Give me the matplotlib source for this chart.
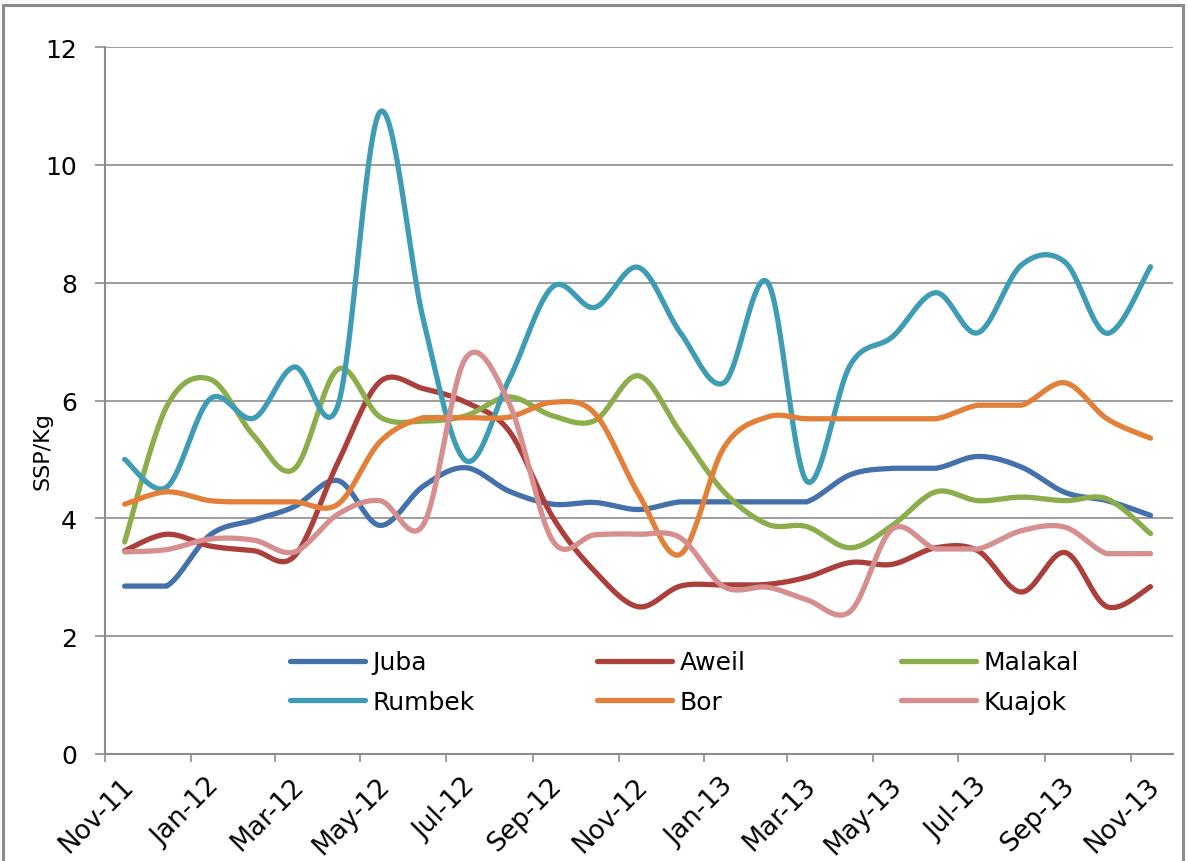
import numpy as np
import pandas as pd
import matplotlib
matplotlib.use('Agg')
import matplotlib.pyplot as plt
import matplotlib.dates as mdates
import matplotlib.transforms as mtransforms
import matplotlib.patches as patches

# monthly prices (SSP/Kg), Nov-11 .. Nov-13, plotted mid-month
months = pd.date_range('2011-11-01', '2013-11-01', freq='MS') + pd.Timedelta(days=14)

juba = [2.85, 2.85, 3.72, 3.97, 4.20, 4.64, 3.88, 4.55, 4.86, 4.46, 4.24, 4.27, 4.15,
        4.28, 4.28, 4.28, 4.28, 4.74, 4.85, 4.85, 5.05, 4.87, 4.44, 4.30, 4.05]
aweil = [3.45, 3.73, 3.53, 3.45, 3.36, 4.95, 6.32, 6.20, 5.97, 5.48, 4.02, 3.10, 2.50,
         2.85, 2.87, 2.88, 3.00, 3.25, 3.22, 3.50, 3.45, 2.75, 3.42, 2.50, 2.84]
malakal = [3.60, 5.90, 6.36, 5.40, 4.84, 6.53, 5.72, 5.65, 5.74, 6.06, 5.74, 5.66, 6.42,
           5.46, 4.45, 3.90, 3.86, 3.50, 3.88, 4.45, 4.30, 4.36, 4.30, 4.33, 3.74]
rumbek = [5.00, 4.53, 6.03, 5.70, 6.57, 5.92, 10.90, 7.35, 4.98, 6.36, 7.93, 7.58, 8.26,
          7.15, 6.30, 8.01, 4.63, 6.60, 7.08, 7.83, 7.15, 8.30, 8.35, 7.14, 8.27]
bor = [4.24, 4.45, 4.30, 4.28, 4.28, 4.24, 5.30, 5.71, 5.71, 5.72, 5.97, 5.78, 4.42,
       3.39, 5.20, 5.72, 5.69, 5.69, 5.69, 5.69, 5.92, 5.92, 6.30, 5.69, 5.36]
kuajok = [3.43, 3.47, 3.65, 3.63, 3.43, 4.07, 4.30, 3.90, 6.72, 5.95, 3.62, 3.72, 3.73,
          3.67, 2.84, 2.83, 2.62, 2.42, 3.82, 3.48, 3.48, 3.79, 3.85, 3.40, 3.40]

series = ['Juba', 'Aweil', 'Malakal', 'Rumbek', 'Bor', 'Kuajok']
values = [juba, aweil, malakal, rumbek, bor, kuajok]
colors = ['#4470AC', '#AA3F3C', '#8BAD4B', '#3F9CB5', '#E2803A', '#D68E8E']


def excel_smooth(x, y, n=24):
    # Catmull-Rom style bezier, like Excel's "smoothed line"
    x = np.asarray(x, float)
    y = np.asarray(y, float)
    xp = np.r_[x[0], x, x[-1]]
    yp = np.r_[y[0], y, y[-1]]
    t = np.linspace(0, 1, n)[:, None]
    out = []
    for i in range(len(x) - 1):
        p0 = np.array([xp[i], yp[i]])
        p1 = np.array([xp[i + 1], yp[i + 1]])
        p2 = np.array([xp[i + 2], yp[i + 2]])
        p3 = np.array([xp[i + 3], yp[i + 3]])
        if p1[1] == p2[1]:
            # flat stretch stays flat
            c1 = p1 + (p2 - p1) / 3
            c2 = p2 - (p2 - p1) / 3
        else:
            c1 = p1 + (p2 - p0) / 6
            c2 = p2 - (p3 - p1) / 6
        seg = ((1 - t) ** 3) * p1 + 3 * ((1 - t) ** 2) * t * c1 + 3 * (1 - t) * t ** 2 * c2 + t ** 3 * p2
        out.append(seg if i == 0 else seg[1:])
    out = np.vstack(out)
    return out[:, 0], out[:, 1]


fig = plt.figure(figsize=(11.88, 8.62), dpi=100)
ax = fig.add_axes([105 / 1188, 1 - 755 / 862, 1068 / 1188, 707 / 862])

xnum = mdates.date2num(months)
lines = []
for name, vals, col in zip(series, values, colors):
    sx, sy = excel_smooth(xnum, vals)
    ln, = ax.plot(sx, sy, color=col, lw=3.8, solid_capstyle='round', label=name)
    lines.append(ln)

ax.set_ylim(0, 12)
ax.set_yticks(np.arange(0, 13, 2))
ax.set_xlim(mdates.date2num(pd.Timestamp('2011-11-01')), mdates.date2num(pd.Timestamp('2013-12-01')))
ticks = pd.date_range('2011-11-01', '2013-11-01', freq='2MS')
ax.set_xticks(mdates.date2num(ticks))
ax.set_xticklabels([d.strftime('%b-%y') for d in ticks])

grid_col = '#8c8c8c'
ax.yaxis.grid(True, color=grid_col, lw=1.2)
ax.set_axisbelow(True)
for s in ['top', 'right']:
    ax.spines[s].set_visible(False)
for s in ['left', 'bottom']:
    ax.spines[s].set_color(grid_col)
    ax.spines[s].set_linewidth(1.5)
ax.tick_params(axis='y', length=7, width=1.2, color=grid_col, pad=13, labelsize=18)
ax.tick_params(axis='x', length=6, width=1.2, color=grid_col, pad=3, labelsize=19)

offset = mtransforms.ScaledTranslation(0.25, -0.15, fig.dpi_scale_trans)
for lab in ax.get_xticklabels():
    lab.set_rotation(45)
    lab.set_ha('right')
    lab.set_va('center')
    lab.set_rotation_mode('anchor')
    lab.set_transform(lab.get_transform() + offset)

ax.set_ylabel('SSP/Kg', fontsize=16)
ax.yaxis.set_label_coords(-0.049, 0.43)

# legend: three equal-width columns like Excel
col_x = [290, 597, 901]
for k, cx in enumerate(col_x):
    handles = [lines[k], lines[k + 3]]
    leg = fig.legend(handles=handles, loc='center left',
                     bbox_to_anchor=(cx / 1188, 1 - 683 / 862),
                     frameon=False, fontsize=18, handlelength=3.0, handletextpad=0.3,
                     borderpad=0, borderaxespad=0, labelspacing=0.62)

# chart area border
fig.patches.append(patches.Rectangle((3 / 1188, -0.05), 1180 / 1188, 1.05 - 6 / 862,
                                     transform=fig.transFigure, fill=False,
                                     edgecolor='#8c8c8c', lw=2.2))

plt.savefig('out.png', dpi=100)
